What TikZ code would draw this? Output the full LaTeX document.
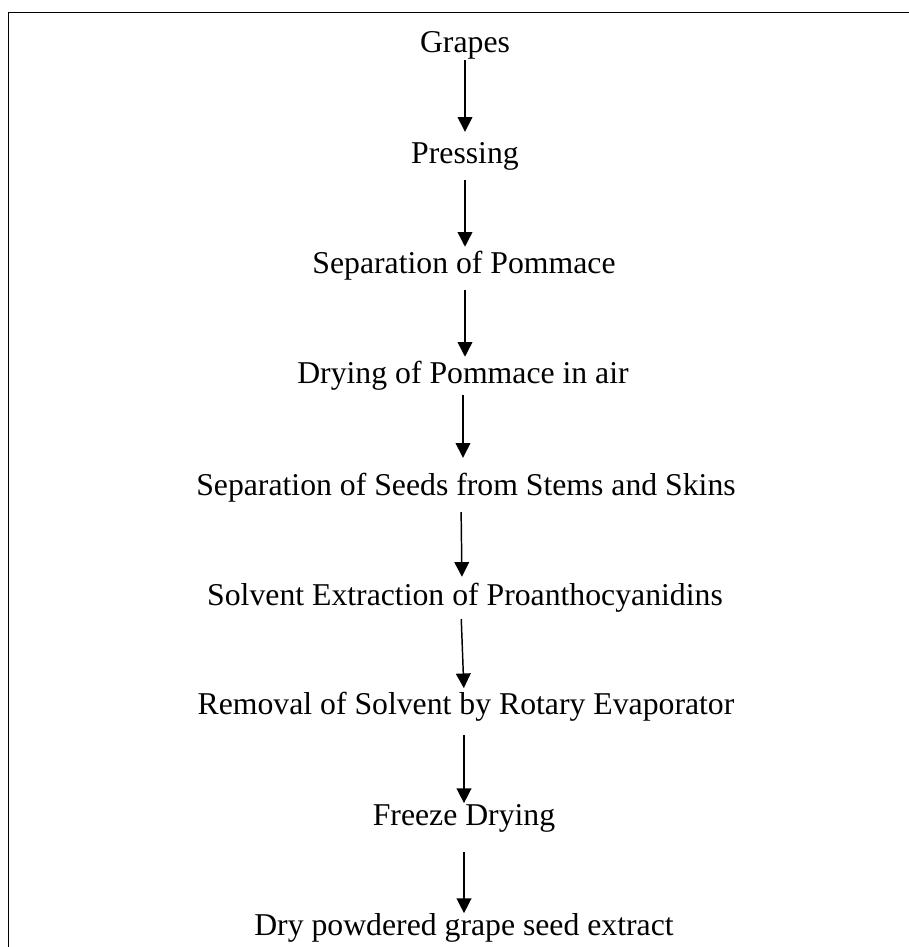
\documentclass[tikz,border=0pt]{standalone}
\usepackage{fontspec}
\setmainfont{Liberation Serif}
\usetikzlibrary{arrows.meta}

\begin{document}
\begin{tikzpicture}[
  x=0.75pt, y=-0.75pt,
  font=\fontsize{23.8pt}{28pt}\selectfont,
  stage/.style={anchor=base, inner sep=0pt, text height=16.2pt, text depth=5.2pt},
  flow/.style={-{Triangle[width=11pt,length=11pt]}, line width=1.1pt},
  frame/.style={line width=1.4pt}
]
\useasboundingbox (0,0) rectangle (909,947);

% Frame (top and left edges only)
\coordinate (tl) at (8.5,12.5);
\coordinate (tr) at (909,12.5);
\coordinate (bl) at (8.5,947);
\draw[frame] (tr) -- (tl) -- (bl);

% Process stages
\node[stage] (grapes)  at (465,52)  {Grapes};
\node[stage] (press)   at (465,163) {Pressing};
\node[stage] (sepPom)  at (464,273) {Separation of Pommace};
\node[stage] (dryPom)  at (463,383) {Drying of Pommace in air};
\node[stage] (sepSeed) at (466,495) {Separation of Seeds from Stems and Skins};
\node[stage] (solvent) at (465,605) {Solvent Extraction of Proanthocyanidins};
\node[stage] (removal) at (466,714) {Removal of Solvent by Rotary Evaporator};
\node[stage] (freeze)  at (464,825) {Freeze Drying};
\node[stage] (powder)  at (464,935) {Dry powdered grape seed extract};

% Arrows between stages
\draw[flow, shorten <=0.75pt, shorten >=7pt] (grapes) -- (press);
\draw[flow, shorten <=7.5pt, shorten >=3.3pt] (press) -- ([xshift=0.75pt]sepPom.north);
\draw[flow, shorten <=7.5pt, shorten >=3.3pt] ([xshift=0.75pt]sepPom.south) -- ([xshift=1.5pt]dryPom.north);
\draw[flow, shorten <=3.75pt, shorten >=11.5pt] (dryPom) -- ([xshift=-2.25pt]sepSeed.north);
\draw[flow, shorten <=7.5pt, shorten >=4.8pt] ([xshift=-3.75pt]sepSeed.south) -- ([xshift=-2.25pt]solvent.north);
\draw[flow, shorten <=5.25pt, shorten >=3pt] ([xshift=-3pt]solvent.south) -- ([xshift=-1.5pt]removal.north);
\draw[flow, shorten <=10.5pt] ([xshift=-1.5pt]removal.south) -- (freeze);
\draw[flow, shorten <=15pt] (freeze) -- (powder);

\end{tikzpicture}
\end{document}
